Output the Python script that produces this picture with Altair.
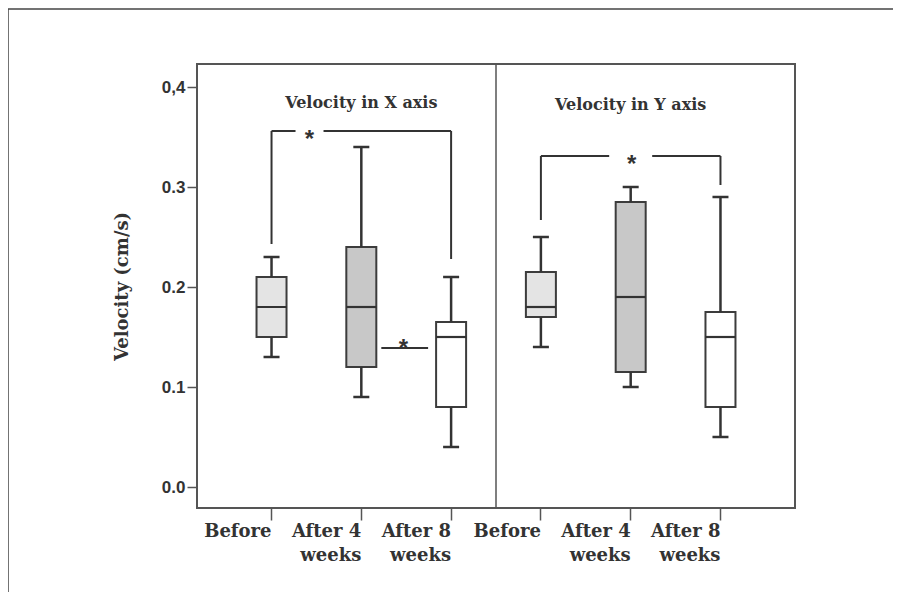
import altair as alt
import pandas as pd

# ---------------- data ----------------
keys = ["X_Before", "X_After4", "X_After8", "Y_Before", "Y_After4", "Y_After8"]
groups = ["Before", "After 4 weeks", "After 8 weeks", "Before", "After 4 weeks", "After 8 weeks"]
tick_labels = [["Before"], ["After 4", "weeks"], ["After 8", "weeks"],
               ["Before"], ["After 4", "weeks"], ["After 8", "weeks"]]
whisker_low = [0.13, 0.09, 0.04, 0.14, 0.10, 0.05]
quart_1 = [0.15, 0.12, 0.08, 0.17, 0.115, 0.08]
medians = [0.18, 0.18, 0.15, 0.18, 0.19, 0.15]
quart_3 = [0.21, 0.24, 0.165, 0.215, 0.285, 0.175]
whisker_high = [0.23, 0.34, 0.21, 0.25, 0.30, 0.29]

y_ticks = [0.0, 0.1, 0.2, 0.3, 0.4]

panel_titles = ["Velocity in X axis", "Velocity in Y axis"]
panel_title_keys = ["X_After4", "Y_After4"]
panel_title_y = [0.384, 0.382]

# significance brackets
bracket_vert_key = ["X_Before", "X_After8", "Y_Before", "Y_After8"]
bracket_vert_from = [0.243, 0.228, 0.267, 0.302]
bracket_vert_to = [0.356, 0.356, 0.331, 0.331]
bracket_h_from = ["X_Before", "Y_Before"]
bracket_h_to = ["X_After8", "Y_After8"]
bracket_h_y = [0.356, 0.331]
low_bracket = {"from": "X_After4", "to": "X_After8", "y": 0.139}

boxes = pd.DataFrame({
    "key": keys, "group": groups, "lo": whisker_low, "q1": quart_1,
    "med": medians, "q3": quart_3, "hi": whisker_high,
})
vert = pd.DataFrame({"key": bracket_vert_key, "y1": bracket_vert_from, "y2": bracket_vert_to})
horiz = pd.DataFrame({"k1": bracket_h_from, "k2": bracket_h_to, "y": bracket_h_y})
low = pd.DataFrame([low_bracket]).rename(columns={"from": "k1", "to": "k2"})
titles = pd.DataFrame({"key": panel_title_keys, "y": panel_title_y, "t": panel_titles})

# ---------------- style ----------------
W, H = 598, 444
PAD = {"left": 189, "top": 56, "right": 98, "bottom": 84}
DARK = "#333333"
LINE = "#555555"
SERIF = "DejaVu Serif"
SANS = "Liberation Sans"

label_map = "{" + ",".join(
    "'%s': [%s]" % (k, ",".join("'%s'" % s for s in lab)) for k, lab in zip(keys, tick_labels)
) + "}"

xs = alt.Scale(domain=keys, paddingInner=0, paddingOuter=0.33)
ys = alt.Scale(domain=[-0.021, 0.423], nice=False, zero=False)

x_axis = alt.Axis(
    title=None, labelAngle=0, domain=False, ticks=True, tickSize=12, tickWidth=1.5,
    tickColor=LINE, labelFont=SERIF, labelFontWeight="bold", labelFontSize=18,
    labelColor=DARK, labelPadding=2, labelLineHeight=24, labelBaseline="top",
    labelExpr=label_map + "[datum.value]",
)
y_axis = alt.Axis(
    title="Velocity (cm/s)", values=y_ticks, grid=False, domain=False,
    tickSize=10, tickWidth=1.5, tickColor=LINE,
    labelFont=SANS, labelFontWeight="bold", labelFontSize=17, labelColor=DARK,
    labelPadding=2,
    labelExpr="datum.value == 0.4 ? '0,4' : format(datum.value, '.1f')",
    titleFont=SERIF, titleFontWeight="bold", titleFontSize=18, titleColor=DARK,
    titleAngle=-90, titleX=-75, titleY=H / 2, titleAlign="center", titleBaseline="middle",
)

base = alt.Chart(boxes)

whisk_up = base.mark_rule(color=DARK, strokeWidth=2.5).encode(
    x=alt.X("key:N", scale=xs, axis=x_axis, sort=keys),
    y=alt.Y("q3:Q", scale=ys, axis=y_axis), y2="hi:Q")
whisk_dn = base.mark_rule(color=DARK, strokeWidth=2.5).encode(
    x=alt.X("key:N", scale=xs, sort=keys), y=alt.Y("lo:Q", scale=ys), y2="q1:Q")
cap_hi = base.mark_tick(color=DARK, size=16, thickness=2.5, opacity=1).encode(
    x=alt.X("key:N", scale=xs, sort=keys), y=alt.Y("hi:Q", scale=ys))
cap_lo = base.mark_tick(color=DARK, size=16, thickness=2.5, opacity=1).encode(
    x=alt.X("key:N", scale=xs, sort=keys), y=alt.Y("lo:Q", scale=ys))
box = base.mark_bar(size=30, stroke="#3c3c3c", strokeWidth=2).encode(
    x=alt.X("key:N", scale=xs, sort=keys), y=alt.Y("q1:Q", scale=ys), y2="q3:Q",
    fill=alt.Fill("group:N", legend=None,
                  scale=alt.Scale(domain=["Before", "After 4 weeks", "After 8 weeks"],
                                  range=["#e4e4e4", "#c8c8c8", "#ffffff"])))
med = base.mark_tick(color=DARK, size=30, thickness=2.2, opacity=1).encode(
    x=alt.X("key:N", scale=xs, sort=keys), y=alt.Y("med:Q", scale=ys))

v_rules = alt.Chart(vert).mark_rule(color=DARK, strokeWidth=2).encode(
    x=alt.X("key:N", scale=xs, sort=keys), y=alt.Y("y1:Q", scale=ys), y2="y2:Q")
h_rules = alt.Chart(horiz).mark_rule(color=DARK, strokeWidth=2).encode(
    x=alt.X("k1:N", scale=xs, sort=keys), x2="k2:N", y=alt.Y("y:Q", scale=ys))
low_rule = alt.Chart(low).mark_rule(color=DARK, strokeWidth=2, xOffset=20, x2Offset=-23).encode(
    x=alt.X("k1:N", scale=xs, sort=keys), x2="k2:N", y=alt.Y("y:Q", scale=ys))

gap1 = alt.Chart(horiz.iloc[[0]]).mark_square(color="white", opacity=1, size=784, xOffset=38).encode(
    x=alt.X("k1:N", scale=xs, sort=keys), y=alt.Y("y:Q", scale=ys))
star1 = alt.Chart(horiz.iloc[[0]]).mark_text(text="*", font=SANS, fontSize=24, fontWeight="bold",
                                             color=DARK, dx=38, dy=9).encode(
    x=alt.X("k1:N", scale=xs, sort=keys), y=alt.Y("y:Q", scale=ys))
gap2 = alt.Chart(pd.DataFrame({"key": ["Y_After4"], "y": [bracket_h_y[1]]})).mark_square(
    color="white", opacity=1, size=1849).encode(
    x=alt.X("key:N", scale=xs, sort=keys), y=alt.Y("y:Q", scale=ys))
star2 = alt.Chart(pd.DataFrame({"key": ["Y_After4"], "y": [bracket_h_y[1]]})).mark_text(
    text="*", font=SANS, fontSize=24, fontWeight="bold", color=DARK, dx=1, dy=9).encode(
    x=alt.X("key:N", scale=xs, sort=keys), y=alt.Y("y:Q", scale=ys))
star3 = alt.Chart(low).mark_text(text="*", font=SANS, fontSize=24, fontWeight="bold",
                                 color=DARK, dx=42, dy=1).encode(
    x=alt.X("k1:N", scale=xs, sort=keys), y=alt.Y("y:Q", scale=ys))

title_txt = alt.Chart(titles).mark_text(font=SERIF, fontWeight="bold", fontSize=16,
                                        color=DARK, baseline="middle").encode(
    x=alt.X("key:N", scale=xs, sort=keys), y=alt.Y("y:Q", scale=ys), text="t:N")

sep = alt.Chart(pd.DataFrame({"key": ["X_After8"]})).mark_rule(color=LINE, strokeWidth=1.5).encode(
    x=alt.X("key:N", scale=xs, sort=keys, bandPosition=1), y=alt.value(0), y2=alt.value(H))

frame_left = alt.Chart(pd.DataFrame({"a": [0]})).mark_rule(color="#444444", strokeWidth=1.5).encode(
    x=alt.value(-189), y=alt.value(-55), y2=alt.value(H + PAD["bottom"]))
frame_top = alt.Chart(pd.DataFrame({"a": [0]})).mark_rule(color="#444444", strokeWidth=1.5).encode(
    x=alt.value(-189), x2=alt.value(W + PAD["right"]), y=alt.value(-55))

chart = alt.layer(
    box, whisk_up, whisk_dn, cap_hi, cap_lo, med,
    v_rules, h_rules, low_rule, gap1, star1, gap2, star2, star3,
    title_txt, sep, frame_left, frame_top,
).properties(
    width=W, height=H, padding=PAD, autosize=alt.AutoSizeParams(type="none"),
    background="white",
).configure_view(stroke=LINE, strokeWidth=2)

chart.save("out.html", embed_options={"renderer": "svg", "actions": False})
